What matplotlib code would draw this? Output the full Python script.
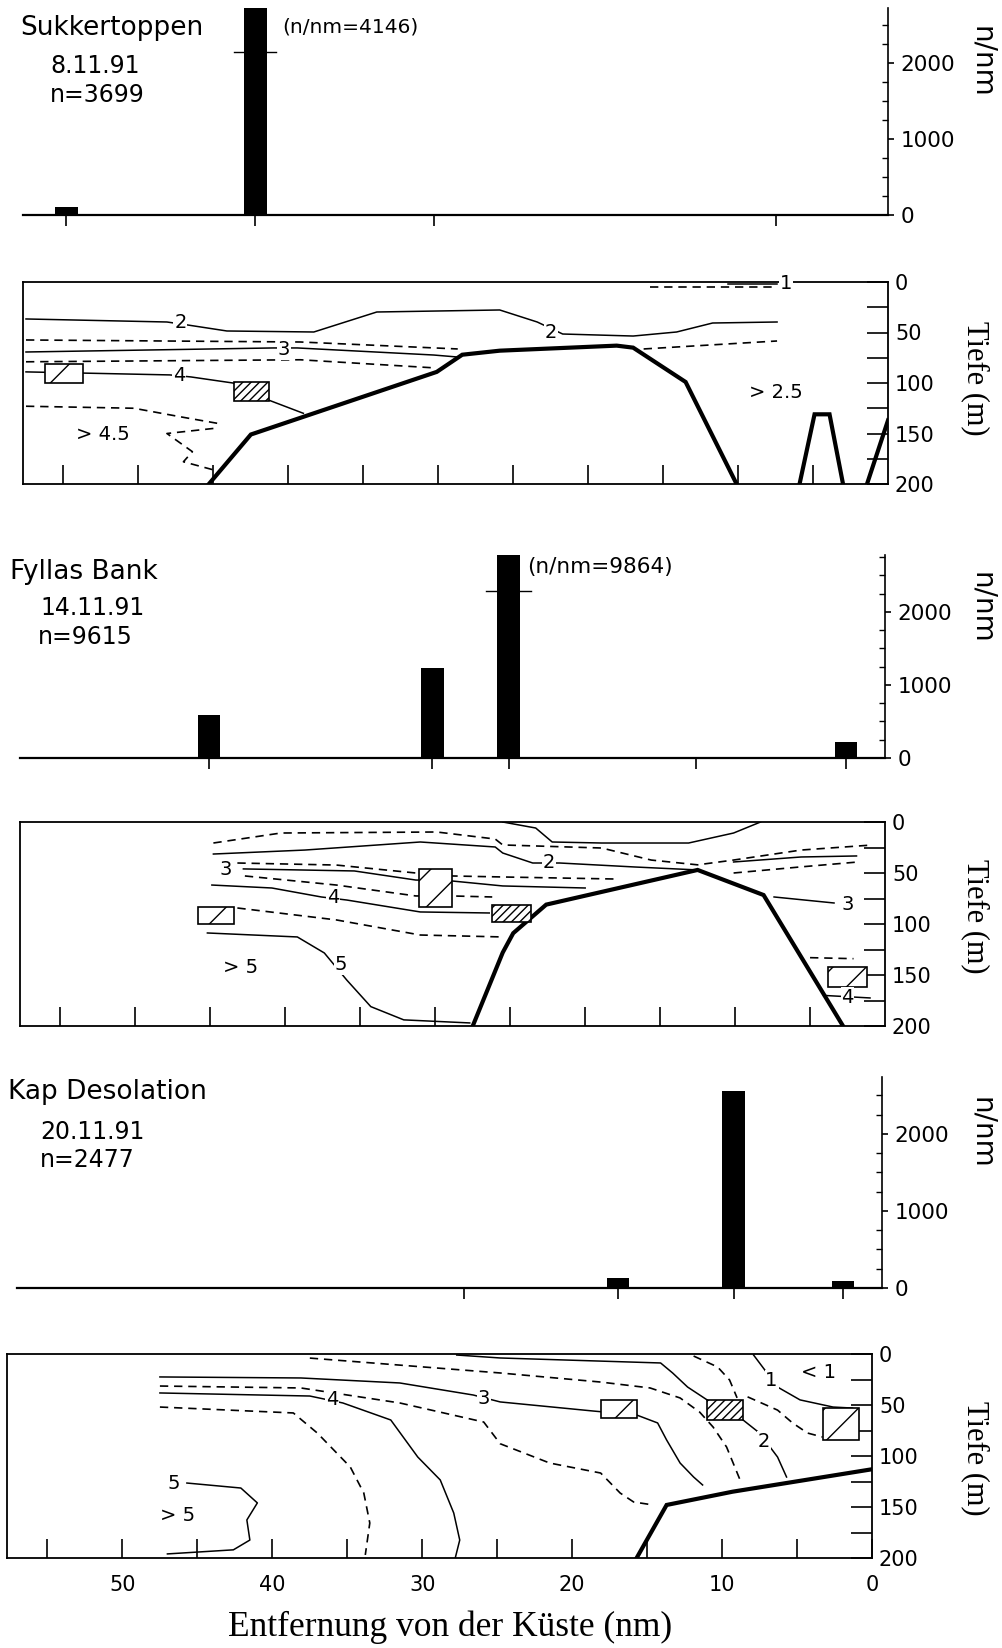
import numpy as np
import matplotlib
matplotlib.use('Agg')
import matplotlib.pyplot as plt
from matplotlib.patches import Rectangle

# ---------------- Daten (Entfernung in nm, Tiefe in m) ----------------
XMAX = 57.7

# Sukkertoppen 8.11.91
suk_stationen = [54.8, 42.2, 30.3, 7.5]
suk_n_nm = [100, 4146, 0, 0]
suk_bruch = 2145          # Markierung auf dem abgeschnittenen Balken

suk_iso2_x = [57.5, 48.1, 46.7, 44.1, 38.3, 34.1, 25.9, 23.4, 21.7, 17.0, 14.1, 11.7, 7.4]
suk_iso2_z = [36.6, 39.6, 42.6, 48.5, 49.5, 29.7, 27.7, 39.6, 51.5, 53.5, 49.5, 40.6, 39.6]
suk_iso25a_x = [57.5, 39.2, 28.7]
suk_iso25a_z = [57.4, 59.4, 66.3]
suk_iso25b_x = [16.3, 7.4]
suk_iso25b_z = [66.3, 58.4]
suk_iso3_x = [57.5, 41.0, 39.4, 30.3, 28.7]
suk_iso3_z = [69.3, 65.3, 65.3, 72.3, 74.3]
suk_iso35_x = [57.5, 39.2, 30.3]
suk_iso35_z = [79.0, 77.0, 85.0]
suk_iso4_x = [57.5, 47.9, 46.5, 43.7, 41.3, 39.0]
suk_iso4_z = [89.0, 92.0, 94.0, 100.0, 117.0, 130.0]
suk_iso45a_x = [57.5, 50.3, 47.0, 44.7]
suk_iso45a_z = [123.0, 125.0, 134.0, 140.0]
suk_iso45b_x = [45.0, 48.1, 46.4, 47.0, 45.0]
suk_iso45b_z = [145.0, 150.0, 168.0, 178.0, 186.0]
suk_iso1a_x = [15.9, 7.4]
suk_iso1a_z = [5.0, 5.0]
suk_iso1b_x = [10.7, 7.4]
suk_iso1b_z = [1.5, 1.5]
suk_boden_x = [45.3, 42.5, 30.1, 28.4, 25.9, 18.1, 17.0, 13.5, 10.1]
suk_boden_z = [200, 151, 89, 72, 68, 63, 65, 99, 200]
suk_kuppe_x = [5.9, 4.9, 3.9, 3.0]
suk_kuppe_z = [200, 131, 131, 200]
suk_rand_x = [1.4, 0.0]
suk_rand_z = [200, 137]
suk_boxen = [(56.2, 53.7, 81, 100, '/'), (43.6, 41.3, 99, 118, '////')]
suk_texte = [(47.2, 40, '2'), (22.5, 50, '2'), (40.3, 67, '3'), (47.3, 93, '4'),
             (6.8, 1.5, '1'), (52.4, 151, '> 4.5'), (7.5, 109, '> 2.5')]

# Fyllas Bank 14.11.91
fyl_stationen = [45.1, 30.2, 25.1, 12.6, 2.6]
fyl_n_nm = [590, 1230, 9864, 0, 220]
fyl_bruch = 2290

fyl_isoA_x = [44.8, 40.3, 29.9, 26.0, 25.5, 18.9, 15.6, 12.5, 10.1, 5.6, 0.8]
fyl_isoA_z = [20.6, 10.8, 9.8, 16.7, 22.5, 25.5, 37.3, 42.0, 37.3, 27.5, 22.5]
fyl_isoU_x = [25.5, 23.3, 22.2, 18.9, 13.1, 10.1, 8.3]
fyl_isoU_z = [0.0, 5.9, 19.6, 20.6, 20.6, 10.8, 0.0]
fyl_iso2_x = [44.8, 38.7, 31.0, 26.0, 25.5, 23.5, 21.7, 16.7, 12.5]
fyl_iso2_z = [31.4, 27.5, 19.6, 24.5, 30.4, 40.2, 40.2, 44.1, 47.0]
fyl_iso2r_x = [10.1, 5.6, 1.9]
fyl_iso2r_z = [39.2, 34.3, 33.3]
fyl_iso25r_x = [10.1, 5.6, 1.8]
fyl_iso25r_z = [50.0, 44.0, 39.2]
fyl_iso25_x = [43.2, 36.6, 31.3, 28.9, 25.5, 18.0]
fyl_iso25_z = [40.2, 42.2, 50.0, 52.9, 53.9, 55.9]
fyl_iso3_x = [42.8, 35.4, 31.3, 28.9, 25.5, 20.0]
fyl_iso3_z = [46.0, 48.0, 56.9, 57.8, 62.7, 64.7]
fyl_iso35_x = [42.7, 36.6, 31.3, 28.9, 26.2]
fyl_iso35_z = [52.9, 61.8, 72.5, 72.5, 73.5]
fyl_iso4_x = [44.9, 40.9, 37.6, 35.9, 31.0, 26.4]
fyl_iso4_z = [61.8, 64.7, 73.5, 76.5, 88.2, 89.2]
fyl_iso45_x = [43.2, 36.6, 31.0, 25.5]
fyl_iso45_z = [84.3, 96.0, 110.8, 112.7]
fyl_iso5_x = [45.2, 39.2, 37.4, 35.9, 34.3, 32.1, 27.7]
fyl_iso5_z = [108.8, 112.7, 128.4, 155.0, 181.0, 194.0, 197.0]
fyl_iso3r_x = [7.4, 3.4]
fyl_iso3r_z = [73.5, 79.4]
fyl_iso35r_x = [5.0, 2.1]
fyl_iso35r_z = [133.0, 134.0]
fyl_iso4r_x = [4.1, 1.0]
fyl_iso4r_z = [170.0, 172.5]
fyl_boden_x = [27.5, 25.5, 24.8, 22.6, 12.5, 8.1, 2.8]
fyl_boden_z = [200, 128, 109, 81, 47, 71.6, 200]
fyl_boxen = [(45.8, 43.4, 83, 100, '/'), (31.1, 28.9, 46, 83, '/'),
             (26.2, 23.6, 81, 98, '////'), (3.8, 1.2, 142, 162, '/')]
fyl_texte = [(44.0, 47, '3'), (22.4, 40, '2'), (36.8, 74.5, '4'), (36.3, 140, '5'),
             (43.0, 143, '> 5'), (2.5, 81, '3'), (2.5, 172, '4')]

# Kap Desolation 20.11.91
kap_stationen = [27.9, 17.6, 9.9, 2.6]
kap_n_nm = [0, 130, 2560, 90]

kap_iso25_x = [37.5, 24.8, 18.1, 14.8, 12.8, 11.5, 10.6, 9.7, 8.8]
kap_iso25_z = [4.0, 18.6, 27.5, 33.3, 43.1, 56.9, 71.6, 91.2, 123.5]
kap_iso2a_x = [27.7, 24.8, 14.1, 13.3, 12.3, 11.0]
kap_iso2a_z = [1.0, 3.9, 8.8, 18.6, 32.4, 45.0]
kap_iso2b_x = [8.6, 7.5, 6.3, 5.7]
kap_iso2b_z = [64.7, 77.5, 101.0, 120.6]
kap_iso15_x = [11.9, 10.3, 9.5, 9.0]
kap_iso15_z = [2.0, 12.7, 25.5, 43.0]
kap_iso1_x = [7.9, 7.0, 6.3, 4.8, 2.6, 1.3]
kap_iso1_z = [1.0, 18.6, 32.4, 45.0, 52.0, 53.0]
kap_iso15r_x = [8.3, 6.3, 5.3, 4.3, 3.3]
kap_iso15r_z = [42.0, 55.0, 67.6, 77.5, 81.4]
kap_iso3_x = [47.5, 38.1, 31.5, 26.6, 24.8, 18.6, 15.7, 14.3, 13.7, 12.8, 11.9, 11.3]
kap_iso3_z = [22.5, 23.5, 28.4, 40.2, 47.0, 55.9, 59.8, 67.6, 84.3, 106.9, 120.6, 128.4]
kap_iso35_x = [47.5, 38.1, 31.5, 25.9, 24.8, 21.5, 18.1, 16.8, 15.9, 14.6]
kap_iso35_z = [31.4, 33.3, 48.0, 66.7, 88.0, 106.9, 116.7, 136.3, 145.1, 148.0]
kap_iso4_x = [47.5, 37.5, 35.3, 32.1, 30.3, 28.8, 27.9, 27.5, 27.8]
kap_iso4_z = [38.2, 41.2, 48.0, 64.7, 101.0, 123.5, 155.9, 182.4, 200.0]
kap_iso45_x = [47.5, 38.6, 37.0, 34.8, 33.9, 33.5, 33.8]
kap_iso45_z = [52.0, 57.8, 77.5, 110.8, 136.3, 165.7, 197.0]
kap_iso5_x = [45.7, 42.1, 41.0, 41.7, 41.5, 42.6, 47.0]
kap_iso5_z = [126.5, 131.4, 146.0, 162.7, 182.4, 192.0, 196.0]
kap_boden_x = [15.7, 13.7, 9.3, 0.0]
kap_boden_z = [200, 148, 135, 113]
kap_boxen = [(18.1, 15.7, 45, 62.7, '/'), (11.0, 8.6, 45, 64.7, '////'),
             (3.3, 0.9, 53, 84, '/')]
kap_texte = [(25.9, 44, '3'), (36.0, 45, '4'), (46.6, 126.5, '5'), (46.3, 158, '> 5'),
             (7.2, 86, '2'), (6.7, 26, '1'), (3.6, 18, '< 1')]

# ---------------- Zeichnen ----------------
W, H = 1003, 1648
fig = plt.figure(figsize=(W / 100, H / 100), dpi=100)
plt.rcParams['font.family'] = ['DejaVu Sans']
plt.rcParams['hatch.linewidth'] = 1.0


def axes_px(left, top, right, bottom):
    return fig.add_axes([left / W, 1 - bottom / H, (right - left) / W, (bottom - top) / H])


def fig_text(x, y, s, **kw):
    fig.text(x / W, 1 - y / H, s, **kw)


def bar_panel(left, top, right, bottom, ymax, stationen, werte):
    ax = axes_px(left, top, right, bottom)
    ax.bar(stationen, werte, width=1.5, color='black')
    ax.set_xlim(XMAX, 0)
    ax.set_ylim(0, ymax)
    ax.spines['left'].set_visible(False)
    ax.spines['top'].set_visible(False)
    ax.spines['bottom'].set_linewidth(1.6)
    ax.spines['right'].set_linewidth(1.2)
    ax.yaxis.tick_right()
    ax.set_yticks([0, 1000, 2000])
    ax.set_yticks(np.arange(250, ymax, 250), minor=True)
    ax.tick_params(axis='y', which='major', direction='out', length=4, width=1.2,
                   pad=5, labelsize=15.5)
    ax.tick_params(axis='y', which='minor', direction='in', length=4, width=1.0)
    ax.set_xticks(stationen)
    ax.set_xticklabels([])
    ax.tick_params(axis='x', direction='out', length=8, width=1.2)
    return ax


def schnitt_panel(left, top, right, bottom, linien, boden, boxen, texte, xlabels=False):
    ax = axes_px(left, top, right, bottom)
    ax.set_xlim(XMAX, 0)
    ax.set_ylim(200, 0)
    for s in ax.spines.values():
        s.set_linewidth(1.3)
    ax.yaxis.tick_right()
    tiefen = np.arange(0, 201, 25)
    ax.set_yticks(tiefen)
    ax.set_yticklabels([str(v) if v % 50 == 0 else '' for v in tiefen])
    ax.tick_params(axis='y', direction='in', length=15, width=1.2, pad=5, labelsize=15)
    if xlabels:
        ax.set_xticks(np.arange(0, 56, 5))
        ax.set_xticklabels([str(v) if v % 10 == 0 else '' for v in range(0, 56, 5)])
        ax.tick_params(axis='x', direction='in', length=14, width=1.2, pad=12, labelsize=15)
    else:
        ax.set_xticks(np.arange(5, 56, 5))
        ax.set_xticklabels([])
        ax.tick_params(axis='x', direction='in', length=14, width=1.2)
    for x, z, gestrichelt in linien:
        if gestrichelt:
            ax.plot(x, z, color='black', lw=1.2, dashes=(5, 3.5))
        else:
            ax.plot(x, z, color='black', lw=1.1)
    for x, z in boden:
        ax.plot(x, z, color='black', lw=3.0, solid_joinstyle='miter', clip_on=True)
    for x1, x2, z1, z2, muster in boxen:
        ax.add_patch(Rectangle((min(x1, x2), min(z1, z2)), abs(x2 - x1), abs(z2 - z1),
                               facecolor='white', edgecolor='black', hatch=muster,
                               lw=1.2, zorder=4))
    for x, z, s in texte:
        ax.text(x, z, s, ha='center', va='center', fontsize=14, zorder=5,
                bbox=dict(facecolor='white', edgecolor='none', pad=0.6))
    return ax


# Sukkertoppen
ax1 = bar_panel(23, 8, 888, 215, 2720, suk_stationen, suk_n_nm)
ax1.plot([suk_stationen[1] + 1.4, suk_stationen[1] - 1.4], [suk_bruch, suk_bruch],
         color='black', lw=1.0)
ax1.text(40.4, 2470, '(n/nm=4146)', fontsize=14.5, va='center', ha='left')

schnitt_panel(23, 282, 888, 484,
              [(suk_iso2_x, suk_iso2_z, False), (suk_iso25a_x, suk_iso25a_z, True),
               (suk_iso25b_x, suk_iso25b_z, True), (suk_iso3_x, suk_iso3_z, False),
               (suk_iso35_x, suk_iso35_z, True), (suk_iso4_x, suk_iso4_z, False),
               (suk_iso45a_x, suk_iso45a_z, True), (suk_iso45b_x, suk_iso45b_z, True),
               (suk_iso1a_x, suk_iso1a_z, True), (suk_iso1b_x, suk_iso1b_z, False)],
              [(suk_boden_x, suk_boden_z), (suk_kuppe_x, suk_kuppe_z), (suk_rand_x, suk_rand_z)],
              suk_boxen, suk_texte)

# Fyllas Bank
ax3 = bar_panel(20, 555, 885, 758, 2780, fyl_stationen, fyl_n_nm)
ax3.plot([fyl_stationen[2] + 1.5, fyl_stationen[2] - 1.5], [fyl_bruch, fyl_bruch],
         color='black', lw=1.0)
ax3.text(23.9, 2616, '(n/nm=9864)', fontsize=15.5, va='center', ha='left')

schnitt_panel(20, 822, 885, 1026,
              [(fyl_isoA_x, fyl_isoA_z, True), (fyl_isoU_x, fyl_isoU_z, False),
               (fyl_iso2_x, fyl_iso2_z, False), (fyl_iso2r_x, fyl_iso2r_z, False),
               (fyl_iso25r_x, fyl_iso25r_z, True), (fyl_iso25_x, fyl_iso25_z, True),
               (fyl_iso3_x, fyl_iso3_z, False), (fyl_iso35_x, fyl_iso35_z, True),
               (fyl_iso4_x, fyl_iso4_z, False), (fyl_iso45_x, fyl_iso45_z, True),
               (fyl_iso5_x, fyl_iso5_z, False), (fyl_iso3r_x, fyl_iso3r_z, False),
               (fyl_iso35r_x, fyl_iso35r_z, True), (fyl_iso4r_x, fyl_iso4r_z, False)],
              [(fyl_boden_x, fyl_boden_z)],
              fyl_boxen, fyl_texte)

# Kap Desolation
bar_panel(17, 1077, 882, 1288, 2740, kap_stationen, kap_n_nm)

schnitt_panel(7, 1354, 872, 1558,
              [(kap_iso25_x, kap_iso25_z, True), (kap_iso2a_x, kap_iso2a_z, False),
               (kap_iso2b_x, kap_iso2b_z, False), (kap_iso15_x, kap_iso15_z, True),
               (kap_iso1_x, kap_iso1_z, False), (kap_iso15r_x, kap_iso15r_z, True),
               (kap_iso3_x, kap_iso3_z, False), (kap_iso35_x, kap_iso35_z, True),
               (kap_iso4_x, kap_iso4_z, False), (kap_iso45_x, kap_iso45_z, True),
               (kap_iso5_x, kap_iso5_z, False)],
              [(kap_boden_x, kap_boden_z)],
              kap_boxen, kap_texte, xlabels=True)

# Beschriftungen
for x, y, s, fs in [(20, 28, 'Sukkertoppen', 19), (50, 66, '8.11.91', 17), (50, 95, 'n=3699', 17),
                    (10, 572, 'Fyllas Bank', 19), (40, 608, '14.11.91', 17), (38, 637, 'n=9615', 17),
                    (8, 1092, 'Kap Desolation', 19), (40, 1132, '20.11.91', 17),
                    (40, 1160, 'n=2477', 17)]:
    fig_text(x, y, s, fontsize=fs, ha='left', va='center')

for y in [62, 608, 1133]:
    fig_text(982, y, 'n/nm', fontsize=20, rotation=-90, ha='center', va='center')
for y in [378, 916, 1458]:
    fig_text(975, y, 'Tiefe (m)', fontsize=22, rotation=-90, ha='center', va='center',
             family='Liberation Serif')
fig_text(450, 1627, 'Entfernung von der Küste (nm)', fontsize=25.5, ha='center', va='center',
         family='Liberation Serif')

fig.savefig('out.png', dpi=100)
